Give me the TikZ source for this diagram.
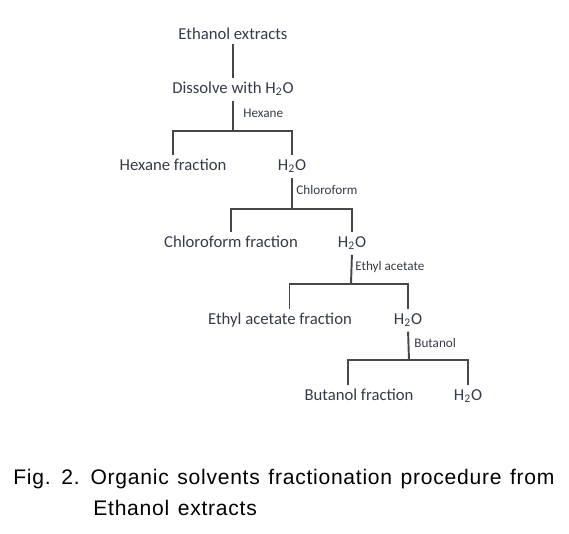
\documentclass[tikz,border=0pt]{standalone}
\usepackage{fontspec}
\setmainfont{Carlito}
\newfontfamily\capfont[LetterSpace=3.5,WordSpace=1.3]{Liberation Sans}
\definecolor{txtgray}{RGB}{55,58,72}
\definecolor{linegray}{RGB}{70,70,75}

\begin{document}
\begin{tikzpicture}[x=0.02cm,y=-0.02cm,
                    main node/.style={font=\fontsize{9.5}{11}\selectfont,text=txtgray,
                      text height=6.1pt,text depth=0pt,inner xsep=1pt,inner ysep=2.6pt},
                    solvent/.style={font=\fontsize{7.5}{9}\selectfont,text=txtgray,
                      anchor=west,inner sep=0pt},
                    link/.style={draw=linegray,line width=1.1pt}]

  \useasboundingbox (0,0) rectangle (569,534);

  \node[main node] (eth) at (233,34) {Ethanol extracts};
  \node[main node] (dis) at (233,88) {Dissolve with H\textsubscript{2}O};

  \node[main node] (hexf) at (173,165) {Hexane fraction};
  \node[main node] (w1) at (292,165) {H\textsubscript{2}O};

  \node[main node] (chlf) at (231,242) {Chloroform fraction};
  \node[main node] (w2) at (352,242) {H\textsubscript{2}O};

  \node[main node] (eaf) at (280,319) {Ethyl acetate fraction};
  \node[main node] (w3) at (408,319) {H\textsubscript{2}O};

  \node[main node] (butf) at (359,395) {Butanol fraction};
  \node[main node] (w4) at (468,395) {H\textsubscript{2}O};

  % solvents
  \node[solvent] (hex) at (243,113) {Hexane};
  \node[solvent] (chl) at (296,190) {Chloroform};
  \node[solvent] (ea) at (355,267) {Ethyl acetate};
  \node[solvent] (but) at (414,343) {Butanol};

  % split points
  \coordinate (s1) at (233,131);
  \coordinate (s2) at (292,209);
  \coordinate (s3) at (351,284);
  \coordinate (s4) at (409,360);

  \draw[link] (eth) -- (dis);
  \draw[link,shorten <=1.4pt] (dis.south) -- (s1);
  \draw[link] (hexf.north) |- (s1) -| (w1.north);

  \draw[link,shorten <=1.4pt] (w1.south) -- (s2);
  \draw[link] (chlf.north) |- (s2) -| (w2.north);

  \draw[link,shorten <=1.4pt] (w2.south) -- (s3);
  \draw[link] ([xshift=5.4pt]eaf.north) |- (s3) -| (w3.north);

  \draw[link,shorten <=1.4pt] (w3.south) -- (s4);
  \draw[link] ([xshift=-6pt]butf.north) |- (s4) -| (w4.north);

  % caption
  \node[anchor=base west,inner sep=0pt,font=\capfont\fontsize{12}{14}\selectfont] (cap1) at (13,484)
    {Fig. 2. Organic solvents fractionation procedure from};
  \node[anchor=base west,inner sep=0pt,font=\capfont\fontsize{12}{14}\selectfont] (cap2) at (93,515)
    {Ethanol extracts};

\end{tikzpicture}
\end{document}
